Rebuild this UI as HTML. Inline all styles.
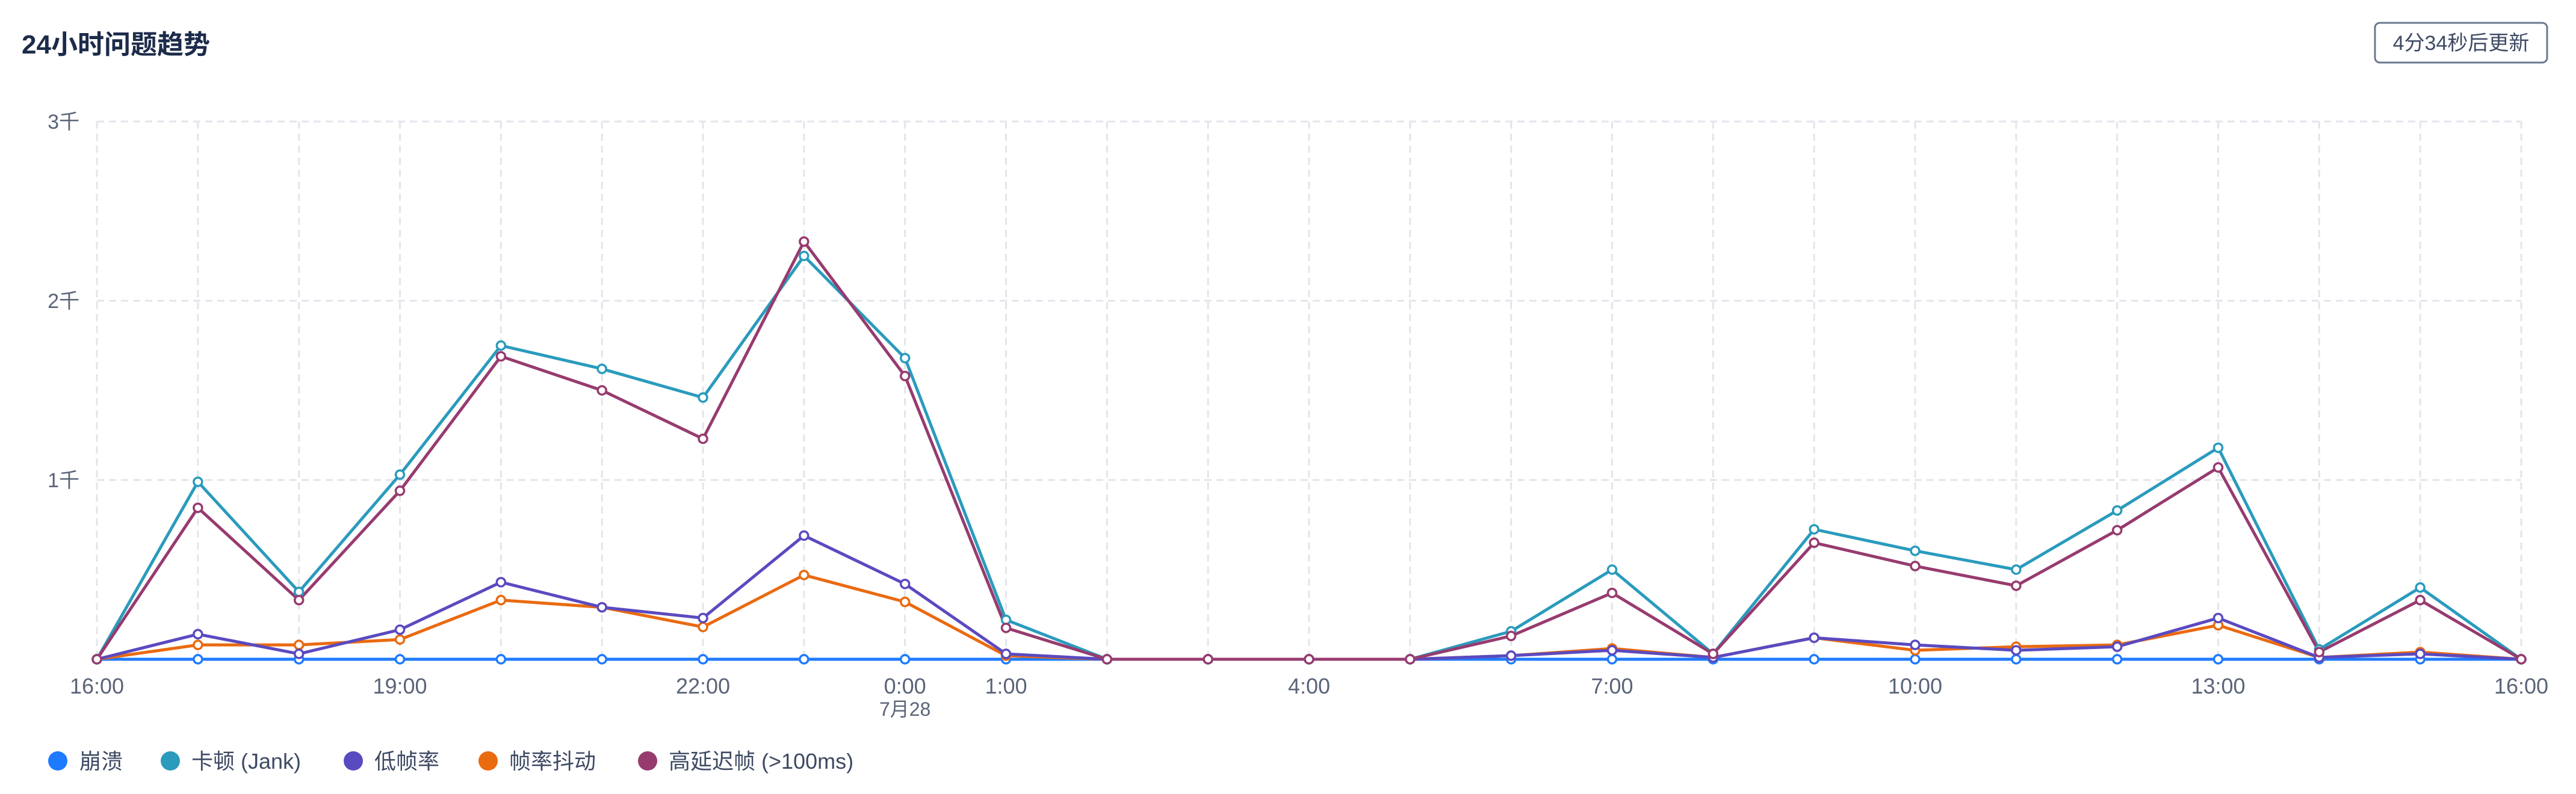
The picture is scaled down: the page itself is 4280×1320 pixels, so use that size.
<!DOCTYPE html>
<html><head><meta charset="utf-8"><style>
html,body{margin:0;padding:0;background:#fff;}
body{width:4280px;height:1320px;overflow:hidden;position:relative;font-family:"Liberation Sans","Noto Sans CJK SC",sans-serif;}
</style></head><body>
<svg width="4280" height="1320" xmlns="http://www.w3.org/2000/svg" style="position:absolute;left:0;top:0" font-family="Liberation Sans, Noto Sans CJK SC, sans-serif">
<text x="36" y="89" font-size="44" font-weight="bold" fill="#1d2b4a">24小时问题趋势</text>
<rect x="3946" y="38" width="286" height="66" rx="8" fill="#fff" stroke="#6b7890" stroke-width="3"/>
<text x="4089" y="83" font-size="34" fill="#3e4a63" text-anchor="middle">4分34秒后更新</text>
<g id="grid" stroke="#e2e5eb" stroke-width="3" stroke-dasharray="12,8" fill="none"></g>
<g id="ylab" font-size="34" fill="#5a6478" text-anchor="end"></g>
<g id="xlab" font-size="36" fill="#5a6478" text-anchor="middle"></g>
<g id="series"></g>
<g font-size="36" fill="#3e4a63">
<circle cx="96" cy="1265" r="16" fill="#1e7bff"/><text x="132" y="1278">崩溃</text>
<circle cx="283" cy="1265" r="16" fill="#2a9bbd"/><text x="318" y="1278">卡顿 (Jank)</text>
<circle cx="587" cy="1265" r="16" fill="#5a4ac0"/><text x="622" y="1278">低帧率</text>
<circle cx="811" cy="1265" r="16" fill="#ea6a10"/><text x="846" y="1278">帧率抖动</text>
<circle cx="1076" cy="1265" r="16" fill="#973b6f"/><text x="1111" y="1278">高延迟帧 (&gt;100ms)</text>
</g>
</svg>
<script>
var NS="http://www.w3.org/2000/svg";
function el(p,t,a,txt){var e=document.createElementNS(NS,t);for(var k in a)e.setAttribute(k,a[k]);if(txt)e.textContent=txt;document.getElementById(p).appendChild(e);return e;}
var x0=161,dx=(4189-161)/24,yb=1096,per=298;
function X(i){return x0+i*dx;}function Y(v){return yb-v*per;}
for(var i=0;i<=24;i++)el("grid","line",{x1:X(i),y1:202,x2:X(i),y2:yb});
for(var k=1;k<=3;k++){el("grid","line",{x1:x0,y1:Y(k),x2:4189,y2:Y(k)});el("ylab","text",{x:132,y:Y(k)+12},k+"千");}
el("grid","line",{x1:x0,y1:yb,x2:4189,y2:yb});
var xl={0:"16:00",3:"19:00",6:"22:00",8:"0:00",9:"1:00",12:"4:00",15:"7:00",18:"10:00",21:"13:00",24:"16:00"};
for(var i in xl)el("xlab","text",{x:X(+i),y:1153},xl[i]);
el("xlab","text",{x:X(8),y:1190,"font-size":"32"},"7月28");
var S=[
["#1e7bff",[0,0,0,0,0,0,0,0,0,0,0,0,0,0,0,0,0,0,0,0,0,0,0,0,0]],
["#ea6a10",[0,0.08,0.08,0.11,0.33,0.29,0.18,0.47,0.32,0.02,0,0,0,0,0.02,0.06,0.01,0.12,0.05,0.07,0.08,0.19,0.01,0.04,0]],
["#5a4ac0",[0,0.14,0.03,0.165,0.43,0.29,0.23,0.69,0.42,0.03,0,0,0,0,0.02,0.05,0.01,0.12,0.08,0.05,0.07,0.23,0.01,0.03,0]],
["#2a9bbd",[0,0.99,0.376,1.03,1.75,1.62,1.46,2.25,1.68,0.22,0,0,0,0,0.156,0.5,0.03,0.725,0.605,0.5,0.83,1.18,0.055,0.4,0]],
["#973b6f",[0,0.845,0.33,0.94,1.69,1.5,1.23,2.33,1.58,0.175,0,0,0,0,0.13,0.37,0.03,0.65,0.52,0.41,0.72,1.07,0.04,0.33,0]]
];
S.forEach(function(s){var p=s[1].map(function(v,i){return X(i)+","+Y(v);}).join(" ");
el("series","polyline",{points:p,fill:"none",stroke:s[0],"stroke-width":5,"stroke-linejoin":"round"});});
S.forEach(function(s){s[1].forEach(function(v,i){el("series","circle",{cx:X(i),cy:Y(v),r:7,fill:"#fff",stroke:s[0],"stroke-width":3.5});});});
</script>
</body></html>
